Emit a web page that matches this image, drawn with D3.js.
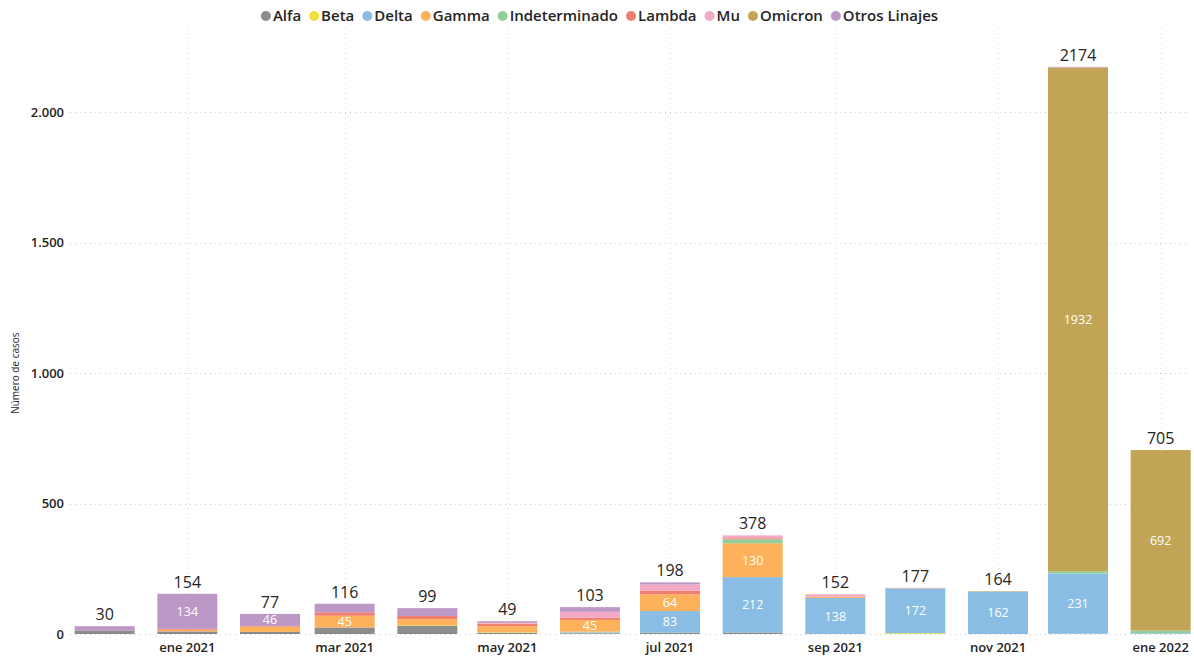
<!DOCTYPE html>
<html>
<head>
<meta charset="utf-8">
<script src="https://cdn.jsdelivr.net/npm/d3@7"></script>
<style>
  body { margin: 0; background: #fff; font-family: "Open Sans", sans-serif; }
  svg text { font-family: "Open Sans", sans-serif; }
</style>
</head>
<body>
<div id="chart"></div>
<script>
// meses (primer día de cada mes)
const meses = ["2020-12-01", "2021-01-01", "2021-02-01", "2021-03-01", "2021-04-01", "2021-05-01", "2021-06-01",
    "2021-07-01", "2021-08-01", "2021-09-01", "2021-10-01", "2021-11-01", "2021-12-01", "2022-01-01"];

const linajes = ["Alfa", "Beta", "Delta", "Gamma", "Indeterminado", "Lambda", "Mu", "Omicron", "Otros Linajes"];
const colores = ["#8c8c8c", "#f0de3a", "#89bde3", "#fdb15a", "#8fcf97", "#ef7e6e", "#f5a9c7", "#c1a455", "#bc98c6"];

const alfa          = [12, 10,  8, 25, 32,  5,  3,  5,   6,   0,   0,   0,    1,   0];
const beta          = [ 0,  0,  0,  0,  2,  2,  2,  0,   0,   0,   3,   0,    0,   0];
const delta         = [ 0,  0,  0,  0,  0,  0,  4, 83, 212, 138, 172, 162,  231,   3];
const gamma         = [ 0,  6, 20, 45, 23, 23, 45, 64, 130,   5,   1,   0,    0,   0];
const indeterminado = [ 0,  0,  0,  0,  0,  0,  0,  0,  15,   0,   0,   0,    8,  10];
const lambda        = [ 0,  4,  3, 13, 12, 10,  9, 14,   4,   0,   0,   0,    0,   0];
const mu            = [ 0,  0,  0,  0,  0,  3, 22, 24,  11,   9,   1,   0,    0,   0];
const omicron       = [ 0,  0,  0,  0,  0,  0,  0,  0,   0,   0,   0,   2, 1932, 692];
const otros         = [18,134, 46, 33, 30,  6, 18,  8,   0,   0,   0,   0,    2,   0];

const yTicks = [0, 500, 1000, 1500, 2000];
const xTicks = ["2021-01-01", "2021-03-01", "2021-05-01", "2021-07-01", "2021-09-01", "2021-11-01", "2022-01-01"];

const series = [alfa, beta, delta, gamma, indeterminado, lambda, mu, omicron, otros];

const width = 1194, height = 656;
const margin = {top: 34, right: 4, bottom: 22, left: 70};

const parse = d3.timeParse("%Y-%m-%d");
const rows = meses.map((m, i) => {
    const r = {fecha: parse(m)};
    linajes.forEach((l, j) => r[l] = series[j][i]);
    r.total = d3.sum(series, s => s[i]);
    return r;
});

const svg = d3.select("#chart").append("svg")
    .attr("width", width)
    .attr("height", height);

const x = d3.scaleTime()
    .domain([d3.timeDay.offset(rows[0].fecha, -12.4), d3.timeDay.offset(rows[rows.length - 1].fecha, 11.2)])
    .range([margin.left, width - margin.right]);

const y = d3.scaleLinear()
    .domain([0, 2300])
    .range([height - margin.bottom, margin.top]);

const barW = 60;
const color = d3.scaleOrdinal(linajes, colores);

// grid
svg.append("g")
    .selectAll("line")
    .data(yTicks)
    .join("line")
    .attr("x1", margin.left)
    .attr("x2", width - margin.right)
    .attr("y1", d => Math.round(y(d)) + 0.5)
    .attr("y2", d => Math.round(y(d)) + 0.5)
    .attr("stroke", "#c8c8c8")
    .attr("stroke-dasharray", "1,4");

svg.append("g")
    .selectAll("line")
    .data(xTicks.map(parse))
    .join("line")
    .attr("x1", d => Math.round(x(d)) + 0.5)
    .attr("x2", d => Math.round(x(d)) + 0.5)
    .attr("y1", margin.top - 6)
    .attr("y2", height - margin.bottom)
    .attr("stroke", "#d8d8d8")
    .attr("stroke-dasharray", "1,4");

// bars
const stacked = d3.stack().keys(linajes)(rows);

const layer = svg.append("g")
    .selectAll("g")
    .data(stacked)
    .join("g")
    .attr("fill", d => color(d.key));

layer.selectAll("rect")
    .data(d => d)
    .join("rect")
    .attr("x", d => x(d.data.fecha) - barW / 2)
    .attr("width", barW)
    .attr("y", d => y(d[1]))
    .attr("height", d => y(d[0]) - y(d[1]));

// labels inside
layer.selectAll("text")
    .data(d => d.filter(s => y(s[0]) - y(s[1]) >= 11))
    .join("text")
    .attr("x", d => x(d.data.fecha))
    .attr("y", d => (y(d[0]) + y(d[1])) / 2)
    .attr("dy", "0.36em")
    .attr("text-anchor", "middle")
    .attr("fill", "#fff")
    .style("font-size", "12.5px")
    .style("font-weight", 500)
    .text(d => d[1] - d[0]);

// totals
svg.append("g")
    .selectAll("text")
    .data(rows)
    .join("text")
    .attr("x", d => x(d.fecha))
    .attr("y", d => y(d.total) - 6)
    .attr("text-anchor", "middle")
    .attr("fill", "#252423")
    .style("font-size", "16px")
    .text(d => d.total);

// axes
const fmt = d3.formatLocale({decimal: ",", thousands: ".", grouping: [3], currency: ["", "€"]}).format(",");
svg.append("g")
    .selectAll("text")
    .data(yTicks)
    .join("text")
    .attr("x", margin.left - 6)
    .attr("y", d => y(d))
    .attr("dy", "0.36em")
    .attr("text-anchor", "end")
    .attr("fill", "#252423")
    .style("font-size", "13px")
    .style("font-weight", 600)
    .text(d => fmt(d));

const mesCorto = ["ene", "feb", "mar", "abr", "may", "jun", "jul", "ago", "sep", "oct", "nov", "dic"];
svg.append("g")
    .selectAll("text")
    .data(xTicks.map(parse))
    .join("text")
    .attr("x", d => x(d))
    .attr("y", height - 4)
    .attr("text-anchor", "middle")
    .attr("fill", "#252423")
    .style("font-size", "13px")
    .style("font-weight", 600)
    .text(d => mesCorto[d.getMonth()] + " " + d.getFullYear());

svg.append("text")
    .attr("transform", `translate(19, ${y(1000)}) rotate(-90)`)
    .attr("text-anchor", "middle")
    .attr("fill", "#252423")
    .style("font-size", "10px")
    .text("Número de casos");

// legend
const legend = svg.append("g").attr("transform", "translate(0, 16)");
const items = legend.selectAll("g")
    .data(linajes)
    .join("g");
items.append("circle")
    .attr("r", 5)
    .attr("fill", d => color(d));
items.append("text")
    .attr("x", 7)
    .attr("dy", "0.36em")
    .attr("fill", "#252423")
    .style("font-size", "15px")
    .style("font-weight", 600)
    .text(d => d);

let pos = 0;
const offsets = [];
items.each(function () {
    offsets.push(pos);
    pos += 7 + this.querySelector("text").getComputedTextLength() + 13;
});
const start = (width - (pos - 13)) / 2 + 5;
items.attr("transform", (d, i) => `translate(${start + offsets[i]}, 0)`);
</script>
</body>
</html>
